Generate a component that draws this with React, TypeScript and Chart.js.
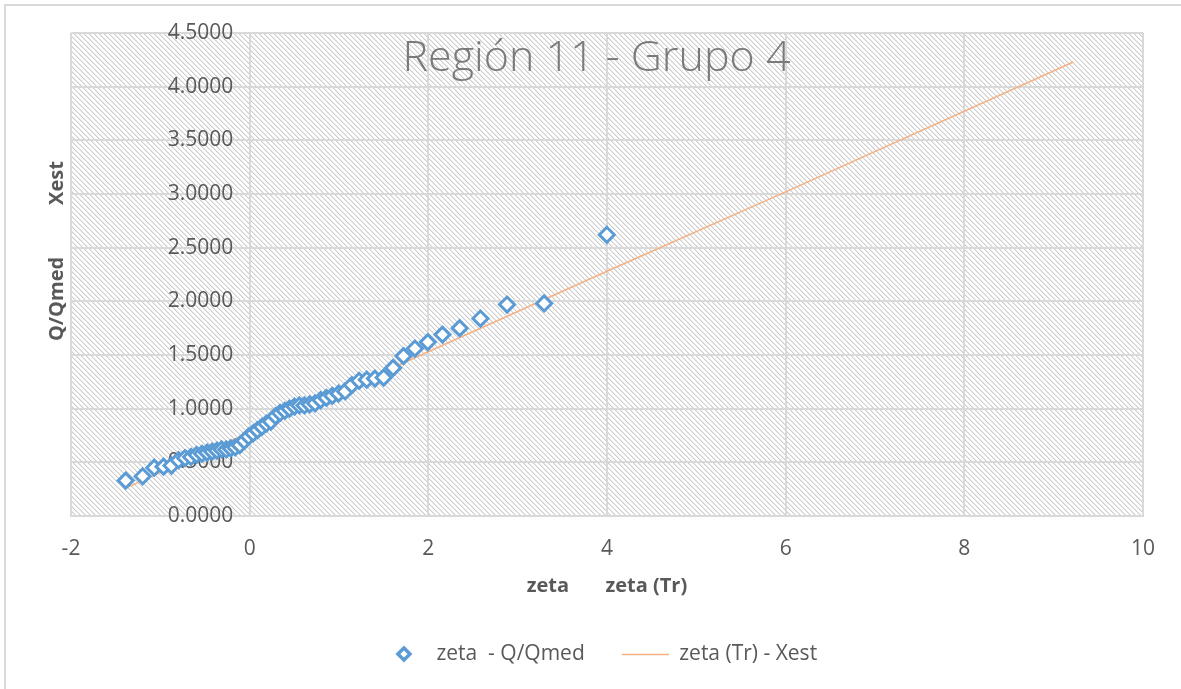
import React, { useEffect, useRef } from 'react';
import { Chart, registerables } from 'chart.js';

Chart.register(...registerables);

// ---- Data ----
const chartTitle = 'Región 11 - Grupo 4';
const seriesNames = ['zeta  - Q/Qmed', 'zeta (Tr) - Xest'];
const xAxisTitle = 'zeta       zeta (Tr)';
const yAxisTitle = '         Q/Qmed          Xest';

// Gumbel reduced variate of each observation (sorted) and its Q/Qmed
const zeta = [
  -1.388, -1.198, -1.068, -0.964, -0.875, -0.796, -0.723, -0.656, -0.593, -0.533,
  -0.476, -0.420, -0.366, -0.314, -0.262, -0.211, -0.161, -0.111, -0.061, -0.012,
  0.038, 0.087, 0.137, 0.187, 0.238, 0.289, 0.340, 0.393, 0.446, 0.501,
  0.556, 0.613, 0.672, 0.732, 0.794, 0.858, 0.925, 0.995, 1.068, 1.144,
  1.225, 1.311, 1.402, 1.500, 1.606, 1.722, 1.850, 1.994, 2.158, 2.351,
  2.583, 2.881, 3.296, 3.998,
];
const qRatio = [
  0.33, 0.37, 0.45, 0.46, 0.47, 0.52, 0.54, 0.55, 0.57, 0.58,
  0.59, 0.60, 0.61, 0.62, 0.62, 0.63, 0.64, 0.66, 0.70, 0.74,
  0.77, 0.80, 0.83, 0.86, 0.88, 0.93, 0.96, 0.98, 1.00, 1.02,
  1.03, 1.03, 1.04, 1.05, 1.08, 1.10, 1.12, 1.14, 1.16, 1.22,
  1.26, 1.27, 1.28, 1.29, 1.38, 1.49, 1.56, 1.62, 1.69, 1.75,
  1.84, 1.97, 1.98, 2.62,
];

// Fitted line zeta(Tr) vs Xest
const zetaTr = [-1.388, 0, 2, 4, 6, 9.22];
const xest = [0.26, 0.78, 1.53, 2.28, 3.02, 4.23];

const xMin = -2, xMax = 10, xStep = 2;
const yMin = 0, yMax = 4.5, yStep = 0.5;

const BLUE = '#5b9bd5';
const ORANGE = '#f4b183';
const TEXT = '#595959';
const GRID = '#d9d9d9';

export default function App() {
  const ref = useRef<HTMLCanvasElement>(null);

  useEffect(() => {
    const canvas = ref.current!;
    Chart.defaults.font.family = "'Open Sans', 'DejaVu Sans', sans-serif";

    // hatch pattern for plot area
    const tile = document.createElement('canvas');
    tile.width = 5; tile.height = 5;
    const t = tile.getContext('2d')!;
    t.fillStyle = '#ffffff'; t.fillRect(0, 0, 5, 5);
    for (let i = 0; i < 5; i++) {
      t.fillStyle = '#cdcdcd'; t.fillRect(i, i, 1, 1);
      t.fillStyle = '#e8e8e8'; t.fillRect((i + 1) % 5, i, 1, 1);
    }
    const pattern = canvas.getContext('2d')!.createPattern(tile, 'repeat');

    const hatch = {
      id: 'hatch',
      beforeDraw(chart: any) {
        const { ctx, chartArea } = chart;
        ctx.save();
        ctx.fillStyle = pattern;
        ctx.fillRect(chartArea.left, chartArea.top, chartArea.right - chartArea.left, chartArea.bottom - chartArea.top);
        ctx.restore();
      },
    };

    const mk = (draw: (g: CanvasRenderingContext2D) => void) => {
      const c = document.createElement('canvas');
      c.width = 50; c.height = 20;
      draw(c.getContext('2d')!);
      return c;
    };
    const diamondImg = mk((g) => {
      g.beginPath();
      g.moveTo(28, 4); g.lineTo(34, 10); g.lineTo(28, 16); g.lineTo(22, 10); g.closePath();
      g.fillStyle = '#fff'; g.fill();
      g.strokeStyle = BLUE; g.lineWidth = 3.5; g.stroke();
    });
    const lineImg = mk((g) => {
      g.beginPath(); g.moveTo(3, 10.5); g.lineTo(50, 10.5);
      g.strokeStyle = ORANGE; g.lineWidth = 1.5; g.stroke();
    });

    const chart = new Chart(canvas, {
      type: 'scatter',
      data: {
        datasets: [
          {
            label: seriesNames[0],
            data: zeta.map((x, i) => ({ x, y: qRatio[i] })),
            xAxisID: 'x', yAxisID: 'y',
            pointStyle: 'rectRot',
            pointRadius: 7.5,
            pointBorderWidth: 3,
            borderColor: BLUE,
            backgroundColor: '#ffffff',
            showLine: false,
          },
          {
            label: seriesNames[1],
            data: zetaTr.map((x, i) => ({ x, y: xest[i] })),
            xAxisID: 'x', yAxisID: 'y',
            showLine: true,
            pointRadius: 0,
            borderColor: ORANGE,
            backgroundColor: ORANGE,
            borderWidth: 1.5,
          },
        ],
      },
      options: {
        responsive: false,
        animation: false,
        layout: { padding: { left: 12, right: 0, top: 0, bottom: 14.5 } },
        scales: {
          x: {
            type: 'linear', position: 'bottom', min: xMin, max: xMax,
            ticks: { stepSize: xStep, font: { size: 21 }, color: TEXT, padding: 20 },
            grid: { color: GRID, lineWidth: 2, drawTicks: false },
            border: { color: GRID, width: 2 },
            title: { display: true, text: xAxisTitle, font: { size: 20, weight: 'bold' }, color: TEXT, padding: { top: 0, bottom: 11.5 } },
            afterFit: (s: any) => { s.height = 93.5; },
          },
          y: {
            type: 'linear', position: { x: 0 } as any, min: yMin, max: yMax,
            ticks: { stepSize: yStep, font: { size: 21 }, color: TEXT, callback: (v: any) => Number(v).toFixed(4) + '   ' },
            grid: { color: GRID, lineWidth: 2, drawTicks: false },
            border: { color: GRID, width: 2 },
          },
          yTitle: {
            type: 'linear', position: 'left', display: true,
            ticks: { display: false }, grid: { display: false, drawTicks: false }, border: { display: false },
            title: { display: true, text: yAxisTitle, font: { size: 20, weight: 'bold' }, color: TEXT, padding: { top: 33, bottom: 0 } },
            afterFit: (s: any) => { s.width = 59; },
          },
          yRight: {
            type: 'linear', position: 'right', display: true,
            ticks: { display: false }, grid: { display: false, drawTicks: false }, border: { display: false },
            afterFit: (s: any) => { s.width = 38; },
          },
        },
        plugins: {
          title: {
            display: true, text: chartTitle, color: '#7a7a7a',
            font: { size: 43, weight: '300' as any },
            padding: { top: 33, bottom: -51.6 },
          },
          legend: {
            position: 'bottom',
            labels: {
              usePointStyle: true, pointStyleWidth: 50, boxHeight: 20,
              font: { size: 21 }, color: TEXT, padding: 34,
              generateLabels: (c: any) => {
                const items = (Chart.defaults.plugins.legend.labels as any).generateLabels(c);
                items[0].pointStyle = diamondImg;
                items[1].pointStyle = lineImg;
                return items;
              },
            },
          },
          tooltip: { enabled: false },
        },
      },
      plugins: [hatch],
    });
    return () => chart.destroy();
  }, []);

  return (
    <div style={{ position: 'fixed', left: 0, top: 0, width: 1181, height: 689, overflow: 'hidden', background: '#fff' }}>
      <div style={{ position: 'absolute', left: 4, top: 4, width: 1400, height: 900, border: '2px solid #d9d9d9' }} />
      <canvas ref={ref} width={1181} height={689} style={{ position: 'absolute', left: 0, top: 0, width: 1181, height: 689 }} />
    </div>
  );
}
